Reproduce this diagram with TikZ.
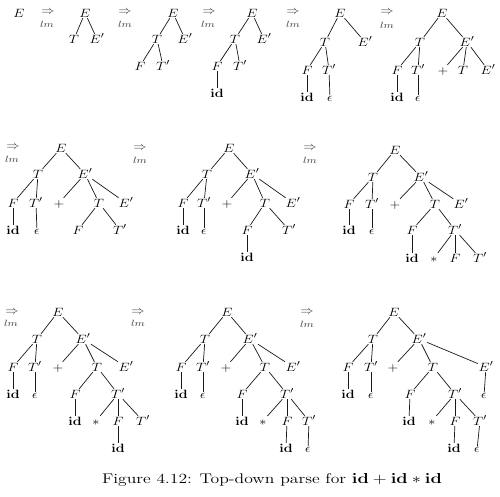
\documentclass[tikz,border=0pt]{standalone}
\usepackage{graphicx}
\newcommand\hxs[1]{\scalebox{1.18}[1]{#1}}
\newcommand\qE{\hxs{$E$}}
\newcommand\qT{\hxs{$T$}}
\newcommand\qEp{\hxs{$E'$}}
\newcommand\qF{\hxs{$F$}}
\newcommand\qTp{\hxs{$T'$}}
\newcommand\qid{\hxs{$\mathbf{id}$}}
\newcommand\qeps{\hxs{$\epsilon$}}
\newcommand\qpl{\hxs{$+$}}
\newcommand\qst{\hxs{$*$}}
\newcommand\qder{\scalebox{1.1}[1]{$\Rightarrow$}}
\newcommand\qlm{\scalebox{1.25}[1]{$lm$}}
\begin{document}
\begin{tikzpicture}[x=1pt,y=-1pt,
  sym/.style={inner sep=0.7pt, text height=8.6pt, text depth=0pt, font=\fontsize{12.8}{15}\selectfont},
  epsn/.style={sym, text height=5pt},
  der/.style={inner sep=0pt, text=black!75, font=\fontsize{12}{14}\selectfont},
  lmlab/.style={inner sep=0pt, text=black!75, font=\fontsize{9.5}{11}\selectfont},
  branch/.style={line width=0.7pt, black!90}]
\useasboundingbox (0,0) rectangle (500,497);

% ---------- Row 1 ----------
\node[sym] (t0r) at (19,13) {\qE};
\node[der] (d1) at (48,12) {\qder};
\node[lmlab] (l1) at (47,24) {\qlm};

\node[sym] (t1r) at (85,13) {\qE};
\node[sym] (t1T) at (74,39) {\qT};
\node[sym] (t1Ep) at (97,39) {\qEp};

\node[der] (d2) at (125,12) {\qder};
\node[lmlab] (l2) at (125,24) {\qlm};

\node[sym] (t2r) at (173,13) {\qE};
\node[sym] (t2T) at (157,39) {\qT};
\node[sym] (t2Ep) at (185,39) {\qEp};
\node[sym] (t2F) at (140,66) {\qF};
\node[sym] (t2Tp) at (163,66) {\qTp};

\node[der] (d3) at (209,12) {\qder};
\node[lmlab] (l3) at (208,24) {\qlm};

\node[sym] (t3r) at (252,13) {\qE};
\node[sym] (t3T) at (235,39) {\qT};
\node[sym] (t3Ep) at (264,39) {\qEp};
\node[sym] (t3F) at (217,66) {\qF};
\node[sym] (t3Tp) at (240,66) {\qTp};
\node[sym] (t3id) at (217,93) {\qid};

\node[der] (d4) at (293,12) {\qder};
\node[lmlab] (l4) at (293,24) {\qlm};

\node[sym] (t4r) at (340,13) {\qE};
\node[sym] (t4T) at (325,42) {\qT};
\node[sym] (t4Ep) at (365,42) {\qEp};
\node[sym] (t4F) at (307,70) {\qF};
\node[sym] (t4Tp) at (329,70) {\qTp};
\node[sym] (t4id) at (307,97) {\qid};
\node[epsn] (t4e) at (330,98.8) {\qeps};

\node[der] (d5) at (387,12) {\qder};
\node[lmlab] (l5) at (387,25) {\qlm};

\node[sym] (t5r) at (442,13) {\qE};
\node[sym] (t5T) at (420,42) {\qT};
\node[sym] (t5Ep) at (467,42) {\qEp};
\node[sym] (t5F) at (397,70) {\qF};
\node[sym] (t5Tp) at (418,70) {\qTp};
\node[sym] (t5pl) at (443,70) {\qpl};
\node[sym] (t5T2) at (463,70) {\qT};
\node[sym] (t5Ep2) at (488,70) {\qEp};
\node[sym] (t5id) at (397,97) {\qid};
\node[epsn] (t5e) at (418,98.8) {\qeps};

% ---------- Row 2 ----------
\node[der] (d6) at (13,147) {\qder};
\node[lmlab] (l6) at (12,159) {\qlm};

\node[sym] (t6r) at (61,148) {\qE};
\node[sym] (t6T) at (38,174) {\qT};
\node[sym] (t6Ep) at (85,174) {\qEp};
\node[sym] (t6F) at (13,203) {\qF};
\node[sym] (t6Tp) at (36,203) {\qTp};
\node[sym] (t6pl) at (59,203) {\qpl};
\node[sym] (t6T2) at (99,203) {\qT};
\node[sym] (t6Ep2) at (126,203) {\qEp};
\node[sym] (t6id) at (13,230) {\qid};
\node[epsn] (t6e) at (37,231.8) {\qeps};
\node[sym] (t6F2) at (78,230) {\qF};
\node[sym] (t6Tp2) at (120,230) {\qTp};

\node[der] (d7) at (140,148) {\qder};
\node[lmlab] (l7) at (140,160) {\qlm};

\node[sym] (t7r) at (229,148) {\qE};
\node[sym] (t7T) at (207,174) {\qT};
\node[sym] (t7Ep) at (252,174) {\qEp};
\node[sym] (t7F) at (183,203) {\qF};
\node[sym] (t7Tp) at (204,203) {\qTp};
\node[sym] (t7pl) at (227,203) {\qpl};
\node[sym] (t7T2) at (265,203) {\qT};
\node[sym] (t7Ep2) at (293,203) {\qEp};
\node[sym] (t7id) at (183,230) {\qid};
\node[epsn] (t7e) at (204,231.8) {\qeps};
\node[sym] (t7F2) at (247,230) {\qF};
\node[sym] (t7Tp2) at (289,230) {\qTp};
\node[sym] (t7id2) at (247,257) {\qid};

\node[der] (d8) at (310,148) {\qder};
\node[lmlab] (l8) at (310,160) {\qlm};

\node[sym] (t8r) at (395,150) {\qE};
\node[sym] (t8T) at (373,177) {\qT};
\node[sym] (t8Ep) at (421,177) {\qEp};
\node[sym] (t8F) at (349,204) {\qF};
\node[sym] (t8Tp) at (372,204) {\qTp};
\node[sym] (t8pl) at (395,204) {\qpl};
\node[sym] (t8T2) at (435,204) {\qT};
\node[sym] (t8Ep2) at (461,204) {\qEp};
\node[sym] (t8id) at (349,230) {\qid};
\node[epsn] (t8e) at (372,231.8) {\qeps};
\node[sym] (t8F2) at (412,230) {\qF};
\node[sym] (t8Tp2) at (455,230) {\qTp};
\node[sym] (t8id2) at (412,258) {\qid};
\node[sym] (t8st) at (434,258) {\qst};
\node[sym] (t8F3) at (455,258) {\qF};
\node[sym] (t8Tp3) at (480,258) {\qTp};

% ---------- Row 3 ----------
\node[der] (d9) at (12,312) {\qder};
\node[lmlab] (l9) at (11,323) {\qlm};

\node[sym] (t9r) at (58,312) {\qE};
\node[sym] (t9T) at (37,339) {\qT};
\node[sym] (t9Ep) at (83,339) {\qEp};
\node[sym] (t9F) at (13,367) {\qF};
\node[sym] (t9Tp) at (35,367) {\qTp};
\node[sym] (t9pl) at (58,367) {\qpl};
\node[sym] (t9T2) at (97,367) {\qT};
\node[sym] (t9Ep2) at (126,367) {\qEp};
\node[sym] (t9id) at (13,394) {\qid};
\node[epsn] (t9e) at (35,395.8) {\qeps};
\node[sym] (t9F2) at (75,394) {\qF};
\node[sym] (t9Tp2) at (118,394) {\qTp};
\node[sym] (t9id2) at (75,421) {\qid};
\node[sym] (t9st) at (96,421) {\qst};
\node[sym] (t9F3) at (118,421) {\qF};
\node[sym] (t9Tp3) at (143,421) {\qTp};
\node[sym] (t9id3) at (118,448) {\qid};

\node[der] (d10) at (138,312) {\qder};
\node[lmlab] (l10) at (138,323) {\qlm};

\node[sym] (t10r) at (227,312) {\qE};
\node[sym] (t10T) at (205,339) {\qT};
\node[sym] (t10Ep) at (250,339) {\qEp};
\node[sym] (t10F) at (181,367) {\qF};
\node[sym] (t10Tp) at (203,367) {\qTp};
\node[sym] (t10pl) at (226,367) {\qpl};
\node[sym] (t10T2) at (265,367) {\qT};
\node[sym] (t10Ep2) at (293,367) {\qEp};
\node[sym] (t10id) at (181,394) {\qid};
\node[epsn] (t10e) at (203,395.8) {\qeps};
\node[sym] (t10F2) at (242,394) {\qF};
\node[sym] (t10Tp2) at (287,394) {\qTp};
\node[sym] (t10id2) at (242,421) {\qid};
\node[sym] (t10st) at (263,421) {\qst};
\node[sym] (t10F3) at (287,421) {\qF};
\node[sym] (t10Tp3) at (309,421) {\qTp};
\node[sym] (t10id3) at (286,448) {\qid};
\node[epsn] (t10e2) at (308,449.8) {\qeps};

\node[der] (d11) at (307,312) {\qder};
\node[lmlab] (l11) at (307,324) {\qlm};

\node[sym] (t11r) at (394,312) {\qE};
\node[sym] (t11T) at (373,339) {\qT};
\node[sym] (t11Ep) at (419,339) {\qEp};
\node[sym] (t11F) at (348,367) {\qF};
\node[sym] (t11Tp) at (371,367) {\qTp};
\node[sym] (t11pl) at (393,367) {\qpl};
\node[sym] (t11T2) at (433,367) {\qT};
\node[sym] (t11Ep2) at (486,367) {\qEp};
\node[sym] (t11id) at (348,394) {\qid};
\node[epsn] (t11e) at (371,395.8) {\qeps};
\node[sym] (t11F2) at (410,394) {\qF};
\node[sym] (t11Tp2) at (455,394) {\qTp};
\node[epsn] (t11e3) at (484,395.8) {\qeps};
\node[sym] (t11id2) at (409,421) {\qid};
\node[sym] (t11st) at (432,421) {\qst};
\node[sym] (t11F3) at (455,421) {\qF};
\node[sym] (t11Tp3) at (480,421) {\qTp};
\node[sym] (t11id3) at (454,448) {\qid};
\node[epsn] (t11e2) at (477,449.8) {\qeps};

% ---------- Edges ----------
\foreach \a/\b in {
  t1r/t1T, t1r/t1Ep,
  t2r/t2T, t2r/t2Ep, t2T/t2F, t2T/t2Tp,
  t3r/t3T, t3r/t3Ep, t3T/t3F, t3T/t3Tp, t3F/t3id,
  t4r/t4T, t4r/t4Ep, t4T/t4F, t4T/t4Tp, t4F/t4id, t4Tp/t4e,
  t5r/t5T, t5r/t5Ep, t5T/t5F, t5T/t5Tp, t5F/t5id, t5Tp/t5e, t5Ep/t5pl, t5Ep/t5T2, t5Ep/t5Ep2,
  t6r/t6T, t6r/t6Ep, t6T/t6F, t6T/t6Tp, t6F/t6id, t6Tp/t6e, t6Ep/t6pl, t6Ep/t6T2, t6Ep/t6Ep2, t6T2/t6F2, t6T2/t6Tp2,
  t7r/t7T, t7r/t7Ep, t7T/t7F, t7T/t7Tp, t7F/t7id, t7Tp/t7e, t7Ep/t7pl, t7Ep/t7T2, t7Ep/t7Ep2, t7T2/t7F2, t7T2/t7Tp2, t7F2/t7id2,
  t8r/t8T, t8r/t8Ep, t8T/t8F, t8T/t8Tp, t8F/t8id, t8Tp/t8e, t8Ep/t8pl, t8Ep/t8T2, t8Ep/t8Ep2, t8T2/t8F2, t8T2/t8Tp2, t8F2/t8id2, t8Tp2/t8st, t8Tp2/t8F3, t8Tp2/t8Tp3,
  t9r/t9T, t9r/t9Ep, t9T/t9F, t9T/t9Tp, t9F/t9id, t9Tp/t9e, t9Ep/t9pl, t9Ep/t9T2, t9Ep/t9Ep2, t9T2/t9F2, t9T2/t9Tp2, t9F2/t9id2, t9Tp2/t9st, t9Tp2/t9F3, t9Tp2/t9Tp3, t9F3/t9id3,
  t10r/t10T, t10r/t10Ep, t10T/t10F, t10T/t10Tp, t10F/t10id, t10Tp/t10e, t10Ep/t10pl, t10Ep/t10T2, t10Ep/t10Ep2, t10T2/t10F2, t10T2/t10Tp2, t10F2/t10id2, t10Tp2/t10st, t10Tp2/t10F3, t10Tp2/t10Tp3, t10F3/t10id3, t10Tp3/t10e2,
  t11r/t11T, t11r/t11Ep, t11T/t11F, t11T/t11Tp, t11F/t11id, t11Tp/t11e, t11Ep/t11pl, t11Ep/t11T2, t11Ep/t11Ep2, t11T2/t11F2, t11T2/t11Tp2, t11F2/t11id2, t11Tp2/t11st, t11Tp2/t11F3, t11Tp2/t11Tp3, t11F3/t11id3, t11Tp3/t11e2, t11Ep2/t11e3}
  \draw[branch] (\a) -- (\b);

% ---------- Caption ----------
\node[inner sep=0pt, font=\fontsize{14}{16}\selectfont] (cap) at (272,480)
  {\scalebox{1.26}[1]{Figure 4.12: Top-down parse for $\mathbf{id}+\mathbf{id}*\mathbf{id}$}};
\end{tikzpicture}
\end{document}
